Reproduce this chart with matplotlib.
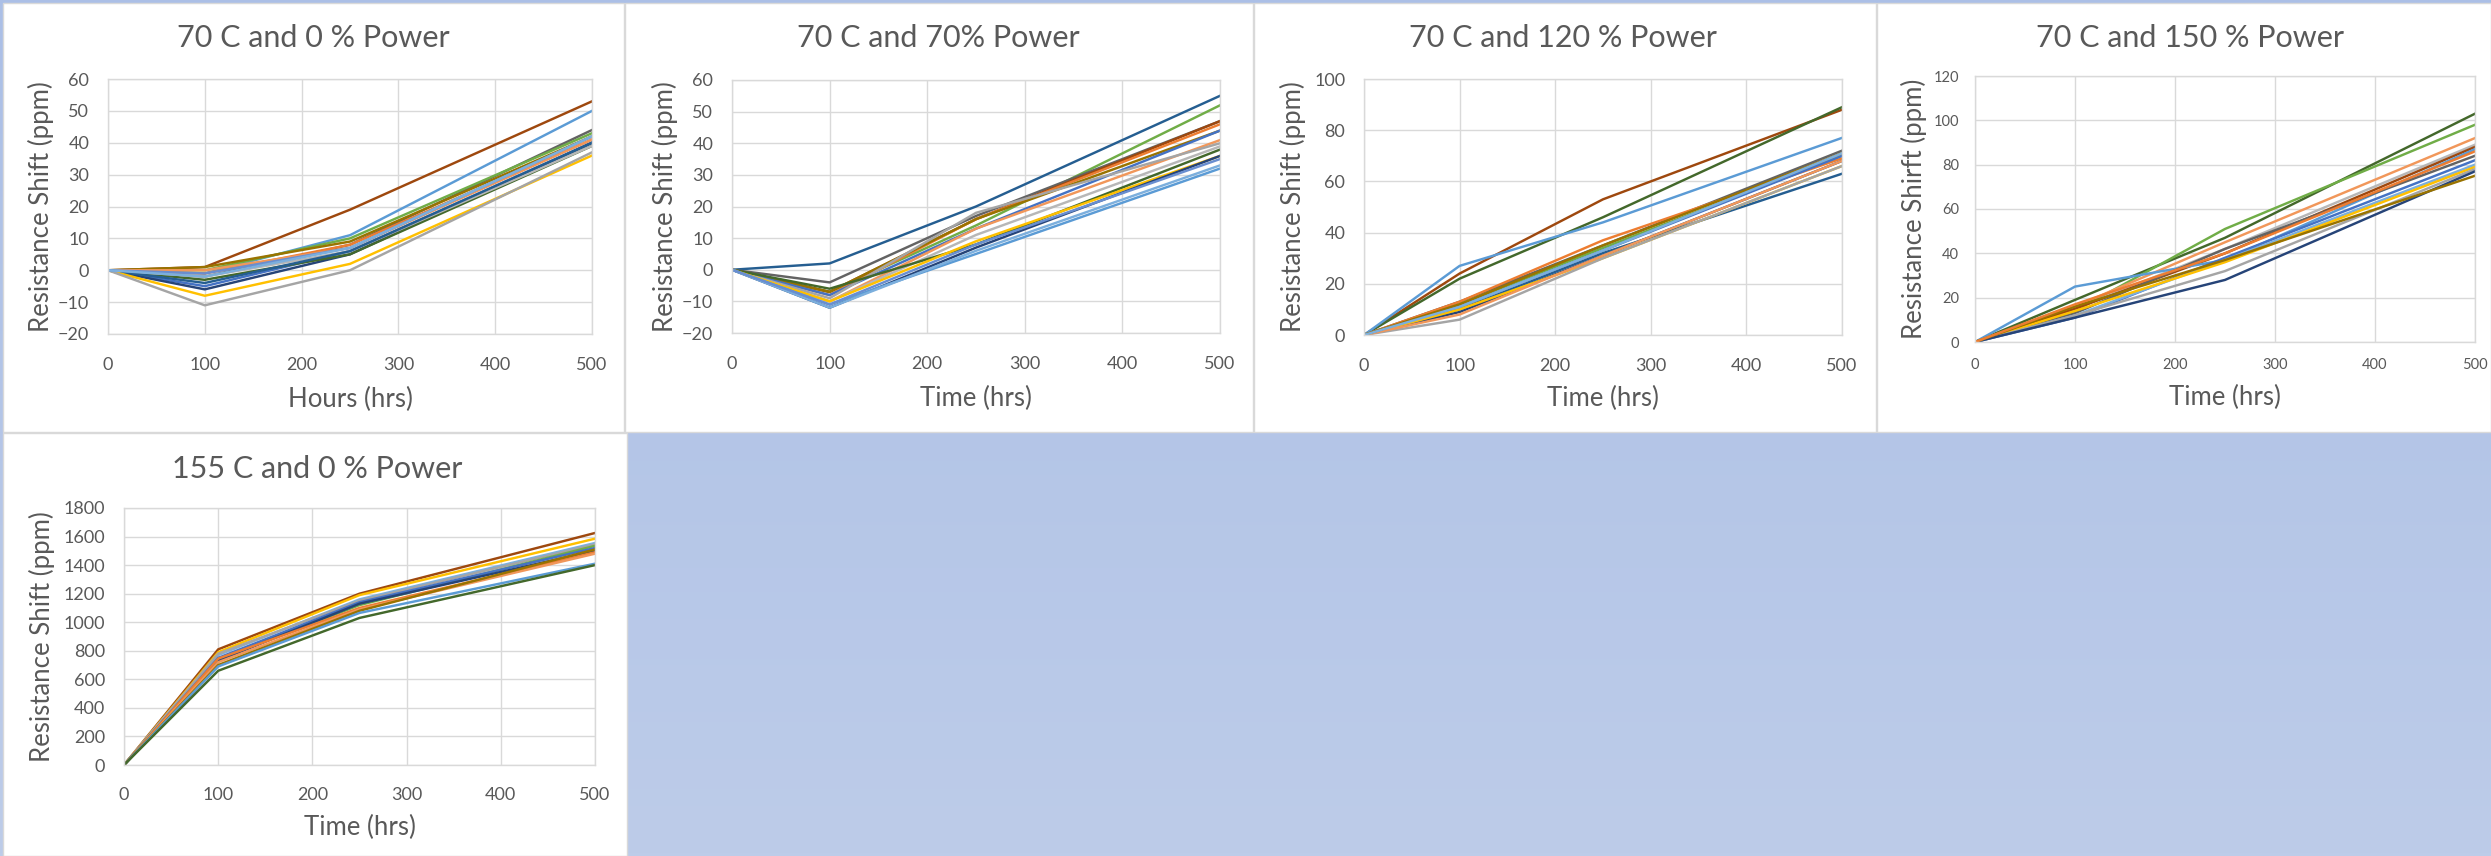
import numpy as np
import matplotlib
matplotlib.use("Agg")
import matplotlib.pyplot as plt
from matplotlib.patches import Rectangle
from matplotlib.colors import LinearSegmentedColormap

plt.rcParams['font.family'] = ['Lato', 'DejaVu Sans']

# Data (ppm shift at each test hour)
hours = [0, 100, 250, 500]

titles = ["70 C and 0 % Power", "70 C and 70% Power", "70 C and 120 % Power",
          "70 C and 150 % Power", "155 C and 0 % Power"]
xlabels = ["Hours (hrs)", "Time (hrs)", "Time (hrs)", "Time (hrs)", "Time (hrs)"]
ylabels = ["Resistance Shift (ppm)", "Resistance Shift (ppm)", "Resistance Shift (ppm)",
           "Resistance Shirft (ppm)", "Resistance Shift (ppm)"]

p1_series = [
    [0, 1, 19, 53], [0, -1, 11, 50], [0, -2, 8, 44], [0, 0, 10, 43],
    [0, 1, 9, 42], [0, -1, 8, 41], [0, 0, 7, 41], [0, -5, 6, 40],
    [0, -6, 5, 40], [0, -3, 5, 39], [0, -2, 6, 39], [0, -4, 6, 40],
    [0, -8, 2, 36], [0, -11, 0, 37], [0, -1, 7, 42], [0, -2, 7, 42],
]
p1_colors = ["#9E480E", "#5B9BD5", "#636363", "#70AD47", "#997300", "#ED7D31",
             "#F1975A", "#4472C4", "#264478", "#43682B", "#B7B7B7", "#255E91",
             "#FFC000", "#A5A5A5", "#698ED0", "#7CAFDD"]

p2_series = [
    [0, 2, 20, 55], [0, -7, 14, 52], [0, -4, 17, 47], [0, -7, 16, 47],
    [0, -8, 16, 46], [0, -7, 16, 44], [0, -8, 13, 44], [0, -10, 13, 41],
    [0, -9, 18, 40], [0, -10, 11, 39], [0, -6, 8, 38], [0, -10, 9, 36],
    [0, -12, 7, 36], [0, -11, 5, 32], [0, -12, 6, 33], [0, -11, 8, 35],
]
p2_colors = ["#255E91", "#70AD47", "#636363", "#9E480E", "#ED7D31", "#997300",
             "#4472C4", "#F1975A", "#A5A5A5", "#B7B7B7", "#43682B", "#FFC000",
             "#264478", "#5B9BD5", "#7CAFDD", "#698ED0"]

p3_series = [
    [0, 24, 53, 88], [0, 22, 46, 89], [0, 27, 44, 77], [0, 13, 35, 72],
    [0, 12, 34, 70], [0, 13, 37, 69], [0, 11, 33, 70], [0, 9, 31, 68],
    [0, 10, 32, 63], [0, 10, 30, 66], [0, 6, 30, 66], [0, 8, 31, 68],
    [0, 12, 35, 71], [0, 11, 33, 71],
]
p3_colors = ["#9E480E", "#43682B", "#5B9BD5", "#636363", "#70AD47", "#ED7D31",
             "#4472C4", "#264478", "#255E91", "#FFC000", "#A5A5A5", "#F1975A",
             "#997300", "#7CAFDD"]

p4_series = [
    [0, 19, 47, 103], [0, 14, 51, 98], [0, 16, 45, 92], [0, 15, 42, 89],
    [0, 15, 40, 88], [0, 25, 37, 87], [0, 13, 42, 84], [0, 11, 38, 82],
    [0, 12, 37, 80], [0, 14, 36, 79], [0, 12, 32, 78], [0, 11, 28, 77],
    [0, 16, 37, 75], [0, 17, 40, 86],
]
p4_colors = ["#43682B", "#70AD47", "#F1975A", "#B7B7B7", "#9E480E", "#5B9BD5",
             "#636363", "#4472C4", "#7CAFDD", "#FFC000", "#A5A5A5", "#264478",
             "#997300", "#ED7D31"]

p5_series = [
    [0, 810, 1200, 1625], [0, 790, 1190, 1585], [0, 770, 1160, 1555],
    [0, 780, 1150, 1545], [0, 740, 1120, 1535], [0, 750, 1140, 1520],
    [0, 730, 1130, 1500], [0, 745, 1100, 1490], [0, 720, 1090, 1480],
    [0, 700, 1080, 1510], [0, 690, 1065, 1410], [0, 660, 1030, 1400],
]
p5_colors = ["#9E480E", "#FFC000", "#7CAFDD", "#A5A5A5", "#70AD47", "#4472C4",
             "#264478", "#ED7D31", "#F1975A", "#997300", "#5B9BD5", "#43682B"]

y_ranges = [(-20, 60, 10), (-20, 60, 10), (0, 100, 20), (0, 120, 20), (0, 1800, 200)]

W, H = 2491, 856
fig = plt.figure(figsize=(W / 100, H / 100), dpi=100)

# blue gradient backdrop
bg = fig.add_axes([0, 0, 1, 1])
grad = np.linspace(0, 1, 256)[:, None]
cmap = LinearSegmentedColormap.from_list("bg", ["#abbfe6", "#bdcce9"])
bg.imshow(grad, aspect="auto", cmap=cmap, extent=[0, 1, 0, 1], origin="upper")
bg.set_xlim(0, 1)
bg.set_ylim(0, 1)
bg.axis("off")


def px_rect(x0, y0, x1, y1):
    return [x0 / W, 1 - y1 / H, (x1 - x0) / W, (y1 - y0) / H]


# chart areas (pixels, top-left origin)
chart_boxes = [(3, 3, 624, 432), (625, 3, 1253, 432), (1254, 3, 1876, 432),
               (1877, 3, 2491, 432), (3, 433, 627, 856)]
for x0, y0, x1, y1 in chart_boxes:
    bg.add_patch(Rectangle((x0 / W, 1 - y1 / H), (x1 - x0) / W, (y1 - y0) / H,
                           transform=fig.transFigure, facecolor="white",
                           edgecolor="#d9d9d9", lw=1, zorder=2))

plot_boxes = [(108, 79, 592, 334), (732, 80, 1220, 333), (1364, 79, 1842, 335),
              (1975, 76, 2475, 342), (124, 508, 595, 765)]
title_pos = [(313, 47), (938, 47), (1563, 47), (2190, 47), (317, 478)]
xlabel_y = [407, 406, 406, 405, 835]
ylabel_x = [41, 665, 1293, 1914, 42]
tick_fs = [13, 13, 13, 10.5, 13]
xpad = [16.5, 16.5, 16.5, 11.5, 16]
ypad = [13.5, 13.5, 13.5, 11.5, 13.5]

all_series = [p1_series, p2_series, p3_series, p4_series, p5_series]
all_colors = [p1_colors, p2_colors, p3_colors, p4_colors, p5_colors]
text_col = "#595959"

for i in range(5):
    x0, y0, x1, y1 = plot_boxes[i]
    ax = fig.add_axes(px_rect(x0, y0, x1, y1))
    ax.set_facecolor("white")
    for vals, c in zip(all_series[i], all_colors[i]):
        ax.plot(hours, vals, color=c, lw=1.75, solid_joinstyle="round")
    lo, hi, step = y_ranges[i]
    ax.set_xlim(0, 500)
    ax.set_ylim(lo, hi)
    ax.set_xticks(range(0, 501, 100))
    ax.set_yticks(range(lo, hi + 1, step))
    ax.grid(True, color="#d9d9d9", lw=1)
    ax.set_axisbelow(True)
    for s in ax.spines.values():
        s.set_color("#d9d9d9")
        s.set_linewidth(1)
    ax.tick_params(length=0, labelsize=tick_fs[i], labelcolor=text_col)
    ax.tick_params(axis="x", pad=xpad[i])
    ax.tick_params(axis="y", pad=ypad[i])

    tx, ty = title_pos[i]
    fig.text(tx / W, 1 - ty / H, titles[i], ha="center", va="baseline",
             fontsize=22, color=text_col)
    fig.text((x0 + x1) / 2 / W, 1 - xlabel_y[i] / H, xlabels[i], ha="center",
             va="baseline", fontsize=18.5, color=text_col)
    fig.text(ylabel_x[i] / W, 1 - (y0 + y1) / 2 / H, ylabels[i], ha="center",
             va="center", rotation=90, fontsize=18.5, color=text_col)

fig.savefig("out.png", dpi=100)
